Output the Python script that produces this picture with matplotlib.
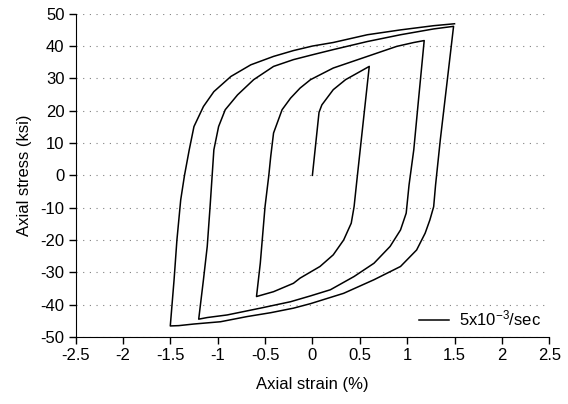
import matplotlib.pyplot as plt

plt.rcParams['font.family'] = ['Liberation Sans', 'DejaVu Sans']
plt.rcParams['axes.unicode_minus'] = False
plt.rcParams['mathtext.fontset'] = 'custom'
plt.rcParams['mathtext.rm'] = 'Liberation Sans'
plt.rcParams['mathtext.it'] = 'Liberation Sans'

# strain (%) and stress (ksi), in loading order
strain = [0.0, 0.07, 0.10, 0.22, 0.35, 0.60,
          0.47, 0.44, 0.41, 0.33, 0.22, 0.08, -0.13, -0.20, -0.41, -0.59,
          -0.55, -0.50, -0.46, -0.44, -0.41, -0.32, -0.23, -0.13, -0.02, 0.22, 0.58, 0.89, 1.07, 1.18,
          1.12, 1.07, 1.02, 0.99, 0.93, 0.82, 0.65, 0.44, 0.19, -0.02, -0.23, -0.55, -0.90, -1.11, -1.20,
          -1.15, -1.11, -1.08, -1.04, -0.99, -0.92, -0.79, -0.62, -0.41, -0.20, 0.0, 0.22, 0.58, 0.93, 1.28, 1.49,
          1.42, 1.35, 1.30, 1.28, 1.24, 1.19, 1.10, 0.93, 0.65, 0.33, -0.02, -0.20, -0.44, -0.69, -0.97, -1.25, -1.41, -1.50,
          -1.46, -1.43, -1.39, -1.35, -1.30, -1.25, -1.15, -1.04, -0.86, -0.65, -0.41, -0.20, 0.0, 0.22, 0.58, 0.93, 1.28, 1.50]
stress = [0.0, 19.5, 21.8, 26.5, 29.6, 33.7,
          -1.4, -9.7, -14.8, -20.0, -24.6, -28.2, -31.8, -33.4, -36.0, -37.5,
          -27.2, -9.7, 0.0, 5.8, 13.1, 20.3, 23.9, 27.0, 29.6, 33.2, 36.8, 39.9, 41.1, 41.7,
          23.4, 7.9, -3.0, -11.7, -16.9, -22.0, -27.2, -31.3, -35.4, -37.3, -39.1, -41.1, -43.2, -44.0, -44.5,
          -32.3, -22.0, -9.7, 7.9, 15.1, 20.3, 24.9, 29.6, 33.7, 35.8, 37.3, 38.9, 41.4, 43.5, 45.3, 46.1,
          28.5, 11.0, -3.0, -9.7, -13.8, -17.9, -23.1, -28.2, -32.3, -36.5, -39.7, -41.1, -42.5, -43.7, -45.3, -46.0, -46.5, -46.6,
          -32.3, -20.0, -7.6, 0.0, 7.9, 15.1, 21.3, 25.9, 30.6, 34.2, 36.8, 38.6, 40.0, 41.1, 43.5, 45.0, 46.3, 46.9]

xticks = [-2.5, -2, -1.5, -1, -0.5, 0, 0.5, 1, 1.5, 2, 2.5]
xlabels = ['-2.5', '-2', '-1.5', '-1', '-0.5', '0', '0.5', '1', '1.5', '2', '2.5']
yticks = list(range(-50, 51, 10))

fig = plt.figure(figsize=(5.68, 4.04), dpi=100)
ax = fig.add_axes([0.133, 0.166, 0.834, 0.8])

ax.plot(strain, stress, color='black', linewidth=1.1, label='5x10$^{-3}$/sec')

ax.set_xlim(-2.5, 2.5)
ax.set_ylim(-50, 50)
ax.set_xticks(xticks)
ax.set_xticklabels(xlabels)
ax.set_yticks(yticks)
ax.tick_params(direction='out', length=5, width=1, labelsize=12, pad=3)
ax.yaxis.grid(True, linestyle=(0, (1, 5)), color='gray', linewidth=0.8)
ax.spines['top'].set_visible(False)
ax.spines['right'].set_visible(False)

ax.set_xlabel('Axial strain (%)', fontsize=12, labelpad=10)
ax.set_ylabel('Axial stress (ksi)', fontsize=12, labelpad=6)

ax.legend(loc='lower right', frameon=False, fontsize=12, handlelength=1.8,
          handletextpad=0.6, borderaxespad=0.1)

fig.savefig('out.png', dpi=100)
